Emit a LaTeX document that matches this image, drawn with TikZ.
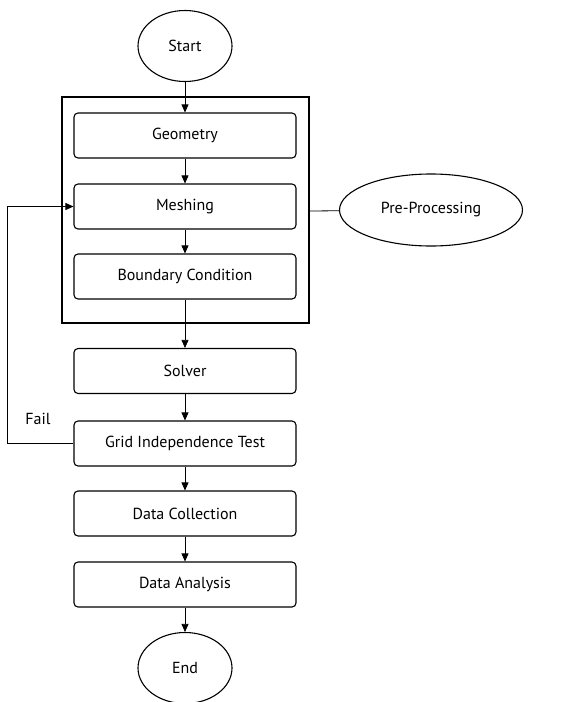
\documentclass[tikz,border=0pt]{standalone}
\usepackage{fontspec}
\setmainfont{PT Sans}
\usetikzlibrary{arrows.meta,shapes.geometric}

\begin{document}
\begin{tikzpicture}[x=1pt,y=-1pt]
\tikzstyle{stepbox}=[draw=black,line width=1.1pt,rounded corners=4pt,minimum width=222pt,minimum height=45pt,inner sep=1pt,font=\fontsize{16}{18}\selectfont]
\tikzstyle{term}=[ellipse,draw=black,line width=1.1pt,inner sep=1pt,font=\fontsize{16}{18}\selectfont]
\tikzstyle{flow}=[line width=0.7pt,-{Triangle[width=7pt,length=8pt]}]
\useasboundingbox (0,0) rectangle (588,702);
\node[term,minimum width=94pt,minimum height=71pt] (start) at (185,46) {Start};
\draw[line width=1.1pt] (62,97) rectangle (309,323);
\coordinate (preright) at (309,211);
\node[stepbox] (geo) at (185,135.5) {Geometry};
\node[stepbox] (mesh) at (185,206.5) {Meshing};
\node[stepbox] (bc) at (185,276.5) {Boundary Condition};
\node[stepbox] (solver) at (185,371) {Solver};
\node[stepbox] (grid) at (185,443.5) {Grid Independence Test};
\node[stepbox] (collect) at (185,513.5) {Data Collection};
\node[stepbox] (analysis) at (185,584.5) {Data Analysis};
\node[term,minimum width=94pt,minimum height=71pt] (end) at (185,668) {End};
\node[term,minimum width=183pt,minimum height=72pt] (pre) at (431,210) {Pre-Processing};
\node[font=\fontsize{16}{18}\selectfont] (fail) at (38,419) {Fail};
\draw[flow] (start) -- (geo);
\draw[flow] (geo) -- (mesh);
\draw[flow] (mesh) -- (bc);
\draw[flow] (bc) -- (solver);
\draw[flow] (solver) -- (grid);
\draw[flow] (grid) -- (collect);
\draw[flow] (collect) -- (analysis);
\draw[flow] (analysis) -- (end);
\draw[line width=0.8pt] (preright) -- (pre);
\draw[flow] (grid.west) -- (7,443.5) |- (mesh.west);
\end{tikzpicture}
\end{document}
